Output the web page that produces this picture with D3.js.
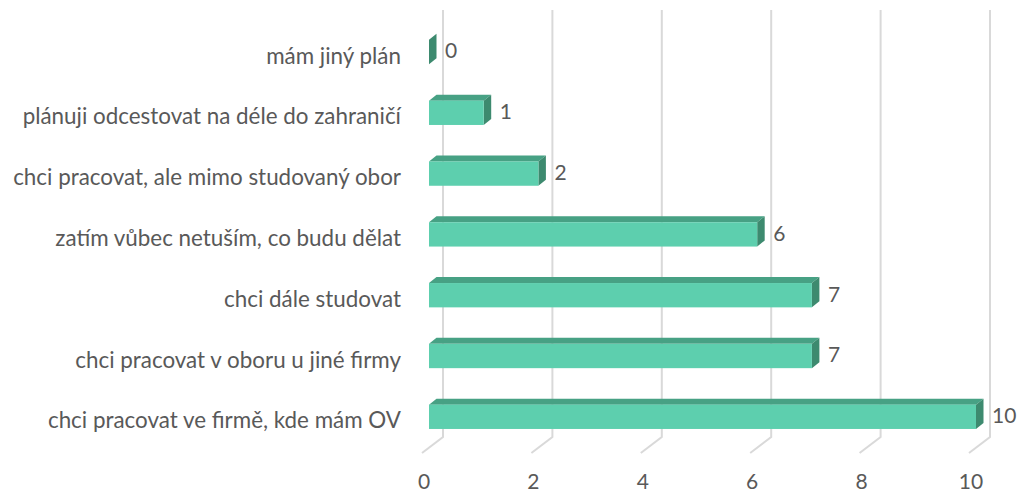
<!DOCTYPE html>
<html>
<head>
<meta charset="utf-8">
<script src="https://cdn.jsdelivr.net/npm/d3@7"></script>
<style>
  body { margin: 0; background: #fff; }
  text { font-family: Lato, "Open Sans", sans-serif; fill: #595959; }
</style>
</head>
<body>
<svg id="chart" width="1019" height="494"></svg>
<script>
// categories from top to bottom
const categories = [
  'mám jiný plán',
  'plánuji odcestovat na déle do zahraničí',
  'chci pracovat, ale mimo studovaný obor',
  'zatím vůbec netuším, co budu dělat',
  'chci dále studovat',
  'chci pracovat v oboru u jiné firmy',
  'chci pracovat ve firmě, kde mám OV'
];
const values = [0, 1, 2, 6, 7, 7, 10];
const ticks = [0, 2, 4, 6, 8, 10];

const svg = d3.select('#chart');

// front plane of the bars
const x = d3.scaleLinear().domain([0, 10]).range([429, 976]);
const y = d3.scaleBand()
  .domain(categories)
  .range([21.6, 447.2])
  .paddingInner(0.6)
  .paddingOuter(0.3);

// 3d offsets
const dx = 7.5, dy = -6;       // bar depth
const backDx = 14;             // back wall relative to bar front
const floorDx = -7;            // floor front edge
const wallTop = 10, wallBottom = 437, floorBottom = 453;

const grid = svg.append('g')
  .attr('fill', 'none')
  .attr('stroke', '#d9d9d9')
  .attr('stroke-width', 2);

grid.selectAll('path')
  .data(ticks)
  .enter()
  .append('path')
  .attr('d', (t) => `M${x(t) + backDx},${wallTop}V${wallBottom}L${x(t) + floorDx},${floorBottom}`);

svg.selectAll('.tick-label')
  .data(ticks)
  .enter()
  .append('text')
  .attr('class', 'tick-label')
  .attr('x', (t) => x(t) - 5)
  .attr('y', 489)
  .attr('text-anchor', 'middle')
  .attr('font-size', '21px')
  .text((t) => t);

const bars = svg.selectAll('.bar')
  .data(values)
  .enter()
  .append('g')
  .attr('class', 'bar');

const x0 = x(0);
const bw = y.bandwidth();

// top face
bars.append('path')
  .attr('fill', '#47a184')
  .attr('d', (v, i) => {
    const t = y(categories[i]);
    return `M${x0},${t}L${x(v)},${t}L${x(v) + dx},${t + dy}L${x0 + dx},${t + dy}Z`;
  });

// right side face
bars.append('path')
  .attr('fill', '#3d8a6f')
  .attr('d', (v, i) => {
    const t = y(categories[i]);
    return `M${x(v)},${t}L${x(v) + dx},${t + dy}L${x(v) + dx},${t + bw + dy}L${x(v)},${t + bw}Z`;
  });

// front face
bars.append('rect')
  .attr('fill', '#5dcfae')
  .attr('x', x0)
  .attr('y', (v, i) => y(categories[i]))
  .attr('width', (v) => x(v) - x0)
  .attr('height', bw);

// value labels
svg.selectAll('.value-label')
  .data(values)
  .enter()
  .append('text')
  .attr('class', 'value-label')
  .attr('x', (v) => x(v) + 16)
  .attr('y', (v, i) => y(categories[i]) + bw / 2 + 1)
  .attr('dominant-baseline', 'middle')
  .attr('font-size', '21px')
  .text((v) => v);

// category labels
svg.selectAll('.cat-label')
  .data(categories)
  .enter()
  .append('text')
  .attr('class', 'cat-label')
  .attr('x', 401)
  .attr('y', (c) => y(c) + bw / 2 + 6)
  .attr('dominant-baseline', 'middle')
  .attr('text-anchor', 'end')
  .attr('font-size', '22.4px')
  .text((c) => c);
</script>
</body>
</html>
